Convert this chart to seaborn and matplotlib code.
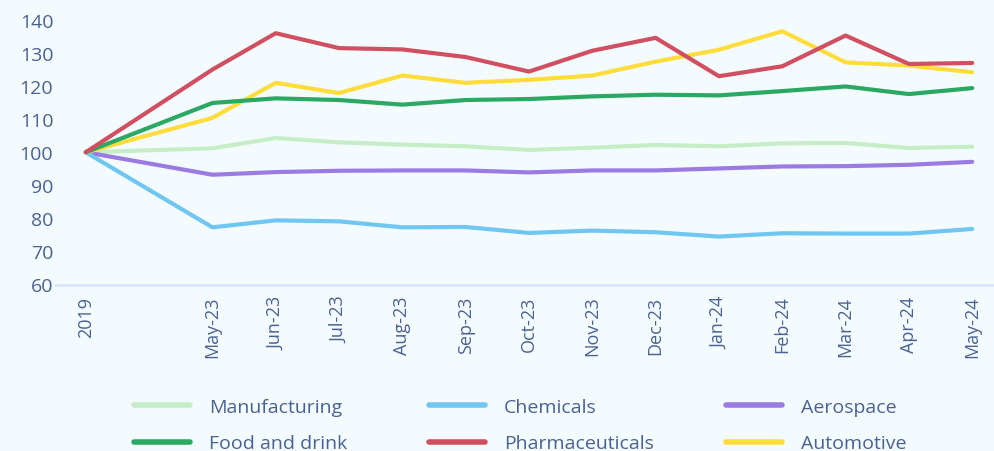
import matplotlib
matplotlib.use("Agg")
import matplotlib.pyplot as plt
import seaborn as sns
import pandas as pd
from matplotlib.lines import Line2D

months = ["2019", "May-23", "Jun-23", "Jul-23", "Aug-23", "Sep-23", "Oct-23", "Nov-23",
          "Dec-23", "Jan-24", "Feb-24", "Mar-24", "Apr-24", "May-24"]
positions = [0, 2, 3, 4, 5, 6, 7, 8, 9, 10, 11, 12, 13, 14]

manufacturing = [100, 101.2, 104.3, 103.0, 102.3, 101.8, 100.7, 101.4, 102.2, 101.8, 102.7, 102.8, 101.3, 101.7]
chemicals = [100, 77.3, 79.4, 79.1, 77.3, 77.4, 75.6, 76.3, 75.8, 74.5, 75.5, 75.4, 75.4, 76.8]
aerospace = [100, 93.2, 94.0, 94.4, 94.5, 94.5, 93.9, 94.5, 94.5, 95.1, 95.7, 95.8, 96.2, 97.1]
food_drink = [100, 114.9, 116.3, 115.8, 114.4, 115.8, 116.1, 116.9, 117.4, 117.2, 118.5, 119.9, 117.6, 119.4]
pharma = [100, 125.0, 136.0, 131.5, 131.1, 128.8, 124.4, 130.7, 134.6, 123.0, 126.0, 135.3, 126.7, 127.0]
automotive = [100, 110.4, 121.0, 117.9, 123.2, 121.0, 121.9, 123.2, 127.4, 131.0, 136.6, 127.2, 126.2, 124.2]

series = {
    "Manufacturing": manufacturing,
    "Chemicals": chemicals,
    "Aerospace": aerospace,
    "Food and drink": food_drink,
    "Pharmaceuticals": pharma,
    "Automotive": automotive,
}
colors = {
    "Manufacturing": "#c6edc6",
    "Chemicals": "#6fc7f1",
    "Aerospace": "#9b7be2",
    "Food and drink": "#2ba862",
    "Pharmaceuticals": "#d04f61",
    "Automotive": "#fddc3c",
}

rows = []
for name, vals in series.items():
    for p, m, v in zip(positions, months, vals):
        rows.append({"pos": p, "month": m, "value": v, "series": name})
df = pd.DataFrame(rows)

BG = "#f3fbfe"
TXT = "#4a6193"

sns.set_theme(style="white")
plt.rcParams["font.family"] = ["Open Sans", "DejaVu Sans"]

fig = plt.figure(figsize=(9.95, 4.52), dpi=100, facecolor=BG)
ax = fig.add_axes([56 / 995, 1 - 285.5 / 452, 1 - 56 / 995, (285.5 - 21) / 452])
ax.set_facecolor(BG)

order = ["Manufacturing", "Aerospace", "Chemicals", "Automotive", "Food and drink", "Pharmaceuticals"]
sns.lineplot(data=df, x="pos", y="value", hue="series", hue_order=order, palette=colors,
             linewidth=3, ax=ax, legend=False, sort=False, solid_capstyle="round")

ax.set_xlim(-0.47, 14.36)
ax.set_ylim(60, 140)
ax.set_yticks(range(60, 141, 10))
ax.set_xticks(positions)
ax.set_xticklabels(months, rotation=90, fontsize=13, color=TXT)
ax.tick_params(axis="y", labelsize=14, colors=TXT, length=0, pad=2)
ax.tick_params(axis="x", length=0, pad=8, colors=TXT)
ax.set_xlabel("")
ax.set_ylabel("")
for s in ["top", "right", "left"]:
    ax.spines[s].set_visible(False)
ax.spines["bottom"].set_color("#d3e5f7")
ax.spines["bottom"].set_linewidth(2)

groups = [(["Manufacturing", "Food and drink"], 136),
          (["Chemicals", "Pharmaceuticals"], 431),
          (["Aerospace", "Automotive"], 728)]
for names, xpix in groups:
    handles = [Line2D([], [], color=colors[n], linewidth=4, solid_capstyle="round") for n in names]
    leg = fig.legend(handles, names, loc="upper left",
                     bbox_to_anchor=(xpix / 995 - 0.002, 1 - 399 / 452),
                     frameon=False, fontsize=14, handlelength=2.9, handletextpad=0.95,
                     labelspacing=0.95, borderpad=0, borderaxespad=0)
    for t in leg.get_texts():
        t.set_color(TXT)

fig.savefig("out.png", dpi=100, facecolor=BG)
